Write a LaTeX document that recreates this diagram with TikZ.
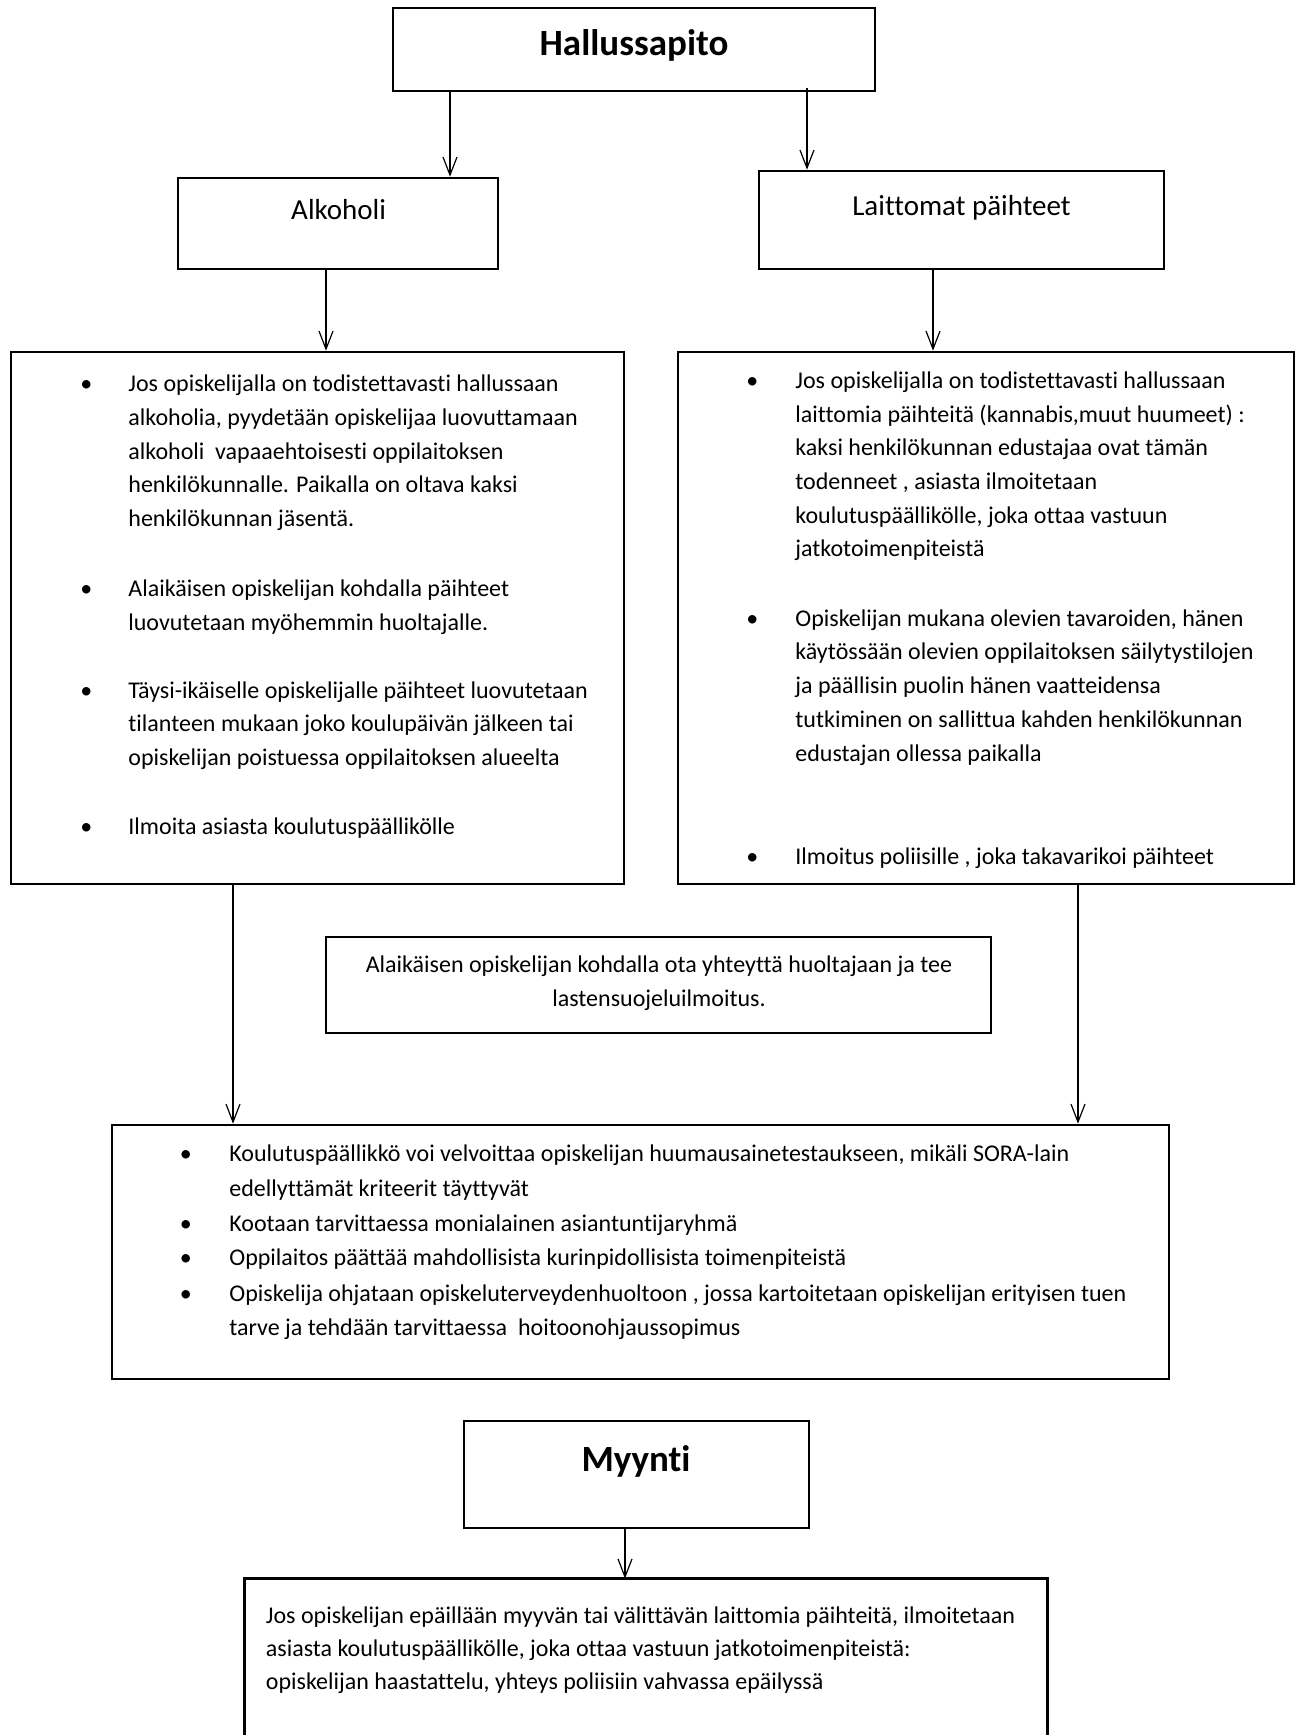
\documentclass[tikz,border=0pt]{standalone}
\usepackage{fontspec}
\setmainfont{Carlito}[Ligatures={NoCommon}]
\usetikzlibrary{fit,arrows.meta}
\begin{document}
\begin{tikzpicture}[x=0.5pt,y=-0.5pt,
  boxline/.style={line width=1.3pt},
  frame/.style={draw,boxline,inner sep=0pt},
  arr/.style={line width=0.6pt,-{Straight Barb[length=9pt,width=7pt]}},
  body/.style={anchor=base west,inner sep=0pt,yshift=-1.65pt,align=left,font=\fontsize{12}{16.85}\selectfont},
  bul/.style={anchor=base west,inner sep=0pt,yshift=-1.65pt,font=\fontsize{12}{16.85}\selectfont},
  head/.style={anchor=base,inner sep=0pt,font=\fontsize{14.5}{17}\selectfont},
  title/.style={anchor=base,inner sep=0pt,font=\bfseries\fontsize{18.5}{22}\selectfont}]
\useasboundingbox (0,0) rectangle (1300,1735);
% boxes
\node[frame,fit={(393,8) (875,91)}] (top) {};
\node[frame,fit={(178,178) (498,269)}] (alk) {};
\node[frame,fit={(759,171) (1164,269)}] (lai) {};
\node[frame,fit={(11,352) (624,884)}] (lbox) {};
\node[frame,fit={(678,352) (1294,884)}] (rbox) {};
\node[frame,fit={(326,937) (991,1033)}] (mid) {};
\node[frame,fit={(112,1125) (1169,1379)}] (bot) {};
\node[frame,fit={(464,1421) (809,1528)}] (myy) {};
\node[inner sep=0pt,fit={(245,1579) (1047,1735)}] (sale) {};
\draw[boxline] (sale.south west) -- (sale.north west) -- (sale.north east) -- (sale.south east);
% headings
\node[title] (t1) at (634,55) {Hallussapito};
\node[head] (t2) at (338.6,219.5) {Alkoholi};
\node[head] (t3) at (961.5,215.5) {Laittomat päihteet};
\node[title] (t4) at (636,1471) {Myynti};
% left box (multi-line nodes: base = last line)
\node[bul] (lb1) at (80,388.3) {•};
\node[body] (lp1) at (128,523.1) {Jos opiskelijalla on todistettavasti hallussaan\\alkoholia, pyydetään opiskelijaa luovuttamaan\\alkoholi\ \ vapaaehtoisesti oppilaitoksen\\henkilökunnalle. Paikalla on oltava kaksi\\henkilökunnan jäsentä.};
\node[bul] (lb2) at (80,593) {•};
\node[body] (lp2) at (128,626.7) {Alaikäisen opiskelijan kohdalla päihteet\\luovutetaan myöhemmin huoltajalle.};
\node[bul] (lb3) at (80,694.8) {•};
\node[body] (lp3) at (128,762.2) {Täysi-ikäiselle opiskelijalle päihteet luovutetaan\\tilanteen mukaan joko koulupäivän jälkeen tai\\opiskelijan poistuessa oppilaitoksen alueelta};
\node[bul] (lb4) at (80,831) {•};
\node[body] (lp4) at (128,831) {Ilmoita asiasta koulutuspäällikölle};
% right box
\node[bul] (rb1) at (746,385) {•};
\node[body] (rp1) at (795,553.5) {Jos opiskelijalla on todistettavasti hallussaan\\laittomia päihteitä (kannabis,muut huumeet) :\\kaksi henkilökunnan edustajaa ovat tämän\\todenneet , asiasta ilmoitetaan\\koulutuspäällikölle, joka ottaa vastuun\\jatkotoimenpiteistä};
\node[bul] (rb2) at (746,622.9) {•};
\node[body] (rp2) at (795,757.7) {Opiskelijan mukana olevien tavaroiden, hänen\\käytössään olevien oppilaitoksen säilytystilojen\\ja päällisin puolin hänen vaatteidensa\\tutkiminen on sallittua kahden henkilökunnan\\edustajan ollessa paikalla};
\node[bul] (rb3) at (746,860.8) {•};
\node[body] (rp3) at (795,860.8) {Ilmoitus poliisille , joka takavarikoi päihteet};
% middle box
\node[body,anchor=base,align=center,font=\fontsize{12}{17.15}\selectfont] (mp) at (659,1003.5) {Alaikäisen opiskelijan kohdalla ota yhteyttä huoltajaan ja tee\\lastensuojeluilmoitus.};
% bottom box
\node[bul] (bb1) at (179.5,1158.4) {•};
\node[body,font=\fontsize{12}{17.3}\selectfont] (bp1) at (229,1193) {Koulutuspäällikkö voi velvoittaa opiskelijan huumausainetestaukseen, mikäli SORA-lain\\edellyttämät kriteerit täyttyvät};
\node[bul] (bb2) at (179.5,1228.1) {•};
\node[body] (bp2) at (229,1228.1) {Kootaan tarvittaessa monialainen asiantuntijaryhmä};
\node[bul] (bb3) at (179.5,1262.4) {•};
\node[body] (bp3) at (229,1262.4) {Oppilaitos päättää mahdollisista kurinpidollisista toimenpiteistä};
\node[bul] (bb4) at (179.5,1297.8) {•};
\node[body,font=\fontsize{12}{17.3}\selectfont] (bp4) at (229,1332.4) {Opiskelija ohjataan opiskeluterveydenhuoltoon , jossa kartoitetaan opiskelijan erityisen tuen\\tarve ja tehdään tarvittaessa\ \ hoitoonohjaussopimus};
% sale text
\node[body,font=\fontsize{12}{16.6}\selectfont] (sp) at (265.5,1686.2) {Jos opiskelijan epäillään myyvän tai välittävän laittomia päihteitä, ilmoitetaan\\asiasta koulutuspäällikölle, joka ottaa vastuun jatkotoimenpiteistä:\\opiskelijan haastattelu, yhteys poliisiin vahvassa epäilyssä};
% arrow x positions
\coordinate (xa) at (450,0);
\coordinate (xb) at (807,0);
\coordinate (xc) at (326,0);
\coordinate (xd) at (933,0);
\coordinate (xe) at (233,0);
\coordinate (xf) at (1078,0);
\coordinate (xg) at (625,0);
\draw[arr] (top.south -| xa) -- (alk.north -| xa);
\draw[arr] ([yshift=2pt]top.south -| xb) -- (lai.north -| xb);
\draw[arr] (alk.south -| xc) -- (lbox.north -| xc);
\draw[arr] (lai.south -| xd) -- (rbox.north -| xd);
\draw[arr] (lbox.south -| xe) -- (bot.north -| xe);
\draw[arr] (rbox.south -| xf) -- (bot.north -| xf);
\draw[arr] (myy.south -| xg) -- (sale.north -| xg);
\end{tikzpicture}
\end{document}
